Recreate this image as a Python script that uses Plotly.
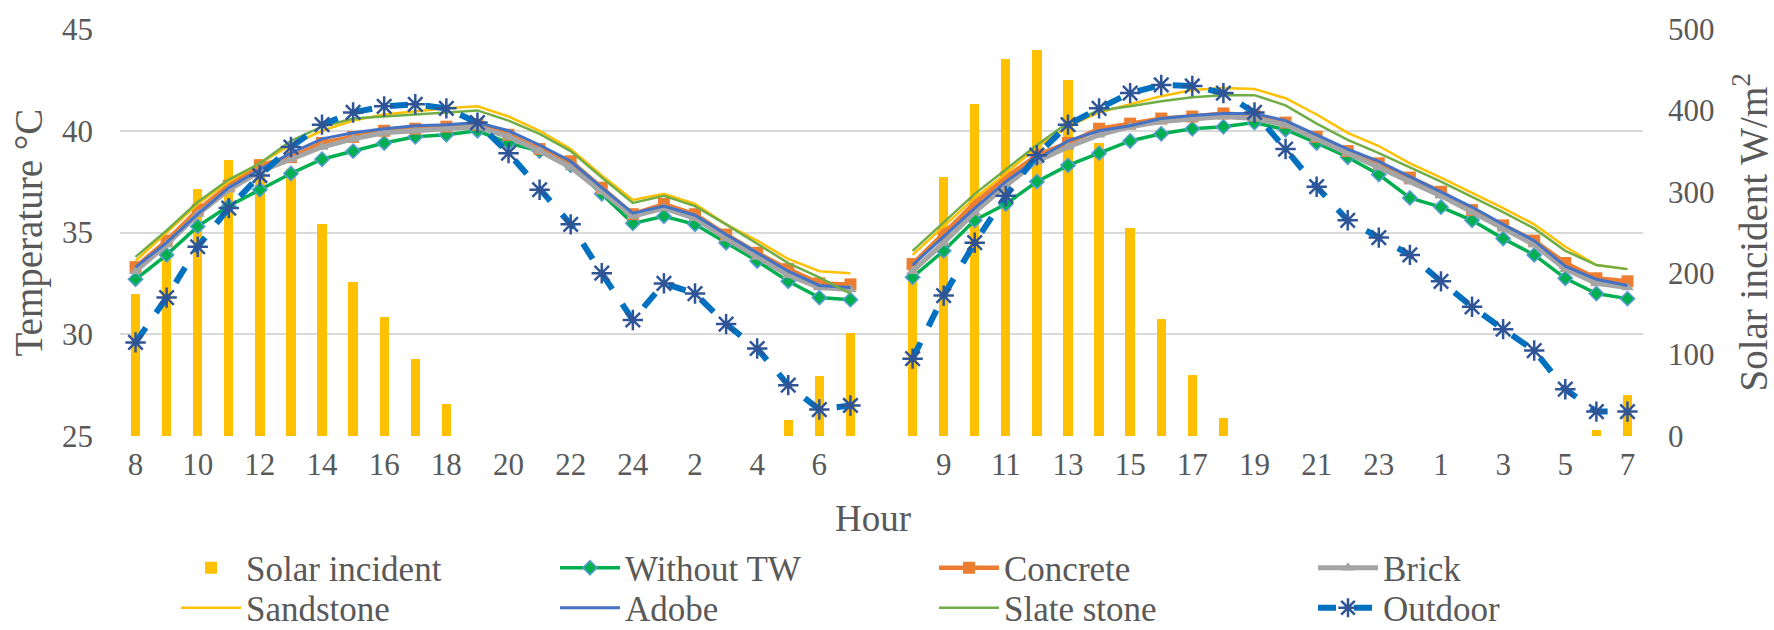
import plotly.graph_objects as go

# ---- data ----
hours = [8, 9, 10, 11, 12, 13, 14, 15, 16, 17, 18, 19, 20, 21, 22, 23, 24, 1, 2, 3, 4, 5, 6, 7]

solar_d1 = [175, 230, 304, 339, 340, 328, 260, 189, 146, 94, 39, 0, 0, 0, 0, 0, 0, 0, 0, 0, 0, 20, 74, 127]
solar_d2 = [195, 318, 408, 463, 474, 437, 360, 256, 144, 75, 22, 0, 0, 0, 0, 0, 0, 0, 0, 0, 0, 0, 7, 50]

without_tw_d1 = [32.7, 33.9, 35.3, 36.3, 37.1, 37.9, 38.6, 39.0, 39.4, 39.7, 39.8, 40.0, 39.4, 39.0, 38.3, 36.9, 35.45, 35.8, 35.4, 34.5, 33.6, 32.6, 31.8, 31.7]
without_tw_d2 = [32.8, 34.1, 35.6, 36.4, 37.5, 38.3, 38.9, 39.5, 39.85, 40.1, 40.2, 40.4, 40.05, 39.4, 38.7, 37.85, 36.7, 36.25, 35.6, 34.7, 33.9, 32.75, 32.0, 31.75]

concrete_d1 = [33.3, 34.6, 36.1, 37.3, 38.3, 38.7, 39.4, 39.7, 40.0, 40.1, 40.2, 40.3, 39.8, 39.1, 38.5, 37.2, 35.9, 36.4, 35.9, 34.9, 34.0, 33.2, 32.5, 32.45]
concrete_d2 = [33.45, 34.95, 36.45, 37.7, 38.8, 39.4, 40.1, 40.35, 40.6, 40.7, 40.85, 40.75, 40.4, 39.7, 39.0, 38.4, 37.7, 37.0, 36.1, 35.35, 34.6, 33.5, 32.75, 32.6]

brick_d1 = [33.1, 34.4, 35.9, 37.1, 38.0, 38.6, 39.2, 39.6, 39.9, 40.0, 40.1, 40.2, 39.7, 39.0, 38.2, 37.0, 35.8, 36.2, 35.7, 34.7, 33.8, 32.9, 32.3, 32.2]
brick_d2 = [33.1, 34.5, 36.0, 37.3, 38.5, 39.2, 39.8, 40.2, 40.45, 40.6, 40.7, 40.6, 40.3, 39.6, 38.9, 38.2, 37.5, 36.8, 36.0, 35.2, 34.4, 33.2, 32.5, 32.3]

sandstone_d1 = [33.6, 35.0, 36.4, 37.5, 38.4, 39.3, 40.0, 40.5, 40.8, 40.95, 41.1, 41.2, 40.7, 40.0, 39.1, 37.8, 36.6, 36.9, 36.4, 35.4, 34.6, 33.7, 33.1, 33.0]
sandstone_d2 = [33.9, 35.3, 36.7, 37.9, 39.2, 40.2, 40.9, 41.3, 41.7, 42.0, 42.1, 42.05, 41.6, 40.8, 39.9, 39.25, 38.4, 37.7, 36.95, 36.2, 35.4, 34.3, 33.4, 33.2]

adobe_d1 = [33.3, 34.5, 35.9, 37.2, 38.1, 38.9, 39.6, 39.9, 40.1, 40.25, 40.3, 40.4, 40.0, 39.3, 38.5, 37.2, 35.95, 36.3, 35.85, 34.9, 34.0, 33.1, 32.4, 32.3]
adobe_d2 = [33.4, 34.8, 36.2, 37.5, 38.6, 39.5, 40.0, 40.25, 40.6, 40.75, 40.85, 40.85, 40.5, 39.8, 39.1, 38.5, 37.75, 37.0, 36.25, 35.4, 34.6, 33.35, 32.7, 32.4]

slate_d1 = [33.8, 35.1, 36.5, 37.6, 38.4, 39.5, 40.2, 40.6, 40.7, 40.8, 40.9, 41.0, 40.5, 39.85, 39.0, 37.7, 36.45, 36.8, 36.3, 35.4, 34.45, 33.5, 32.8, 32.0]
slate_d2 = [34.1, 35.5, 36.9, 38.1, 39.3, 40.4, 41.0, 41.2, 41.45, 41.65, 41.75, 41.75, 41.25, 40.35, 39.55, 38.9, 38.2, 37.5, 36.75, 36.0, 35.2, 34.1, 33.4, 33.2]

outdoor_d1 = [29.6, 31.8, 34.3, 36.2, 37.8, 39.2, 40.3, 40.9, 41.2, 41.3, 41.1, 40.4, 38.9, 37.1, 35.4, 33.0, 30.7, 32.5, 32.0, 30.5, 29.3, 27.5, 26.3, 26.5]
outdoor_d2 = [28.8, 31.9, 34.5, 36.8, 38.8, 40.3, 41.1, 41.85, 42.25, 42.2, 41.85, 40.9, 39.1, 37.25, 35.6, 34.75, 33.9, 32.6, 31.35, 30.25, 29.2, 27.3, 26.2, 26.2]

# ---- category positions: day 1, one empty slot, day 2 ----
n = len(hours)
x_d1 = list(range(n))
x_d2 = list(range(n + 1, 2 * n + 1))
x_all = x_d1 + [n] + x_d2

def join(d1, d2):
    return list(d1) + [None] + list(d2)

tickvals = x_d1[0::2] + x_d2[1::2]
ticktext = [str(h) for h in hours[0::2]] + [str(h) for h in hours[1::2]]

FONT = "Liberation Serif"
GREY = "#595959"

fig = go.Figure()

fig.add_trace(go.Bar(
    x=x_d1 + x_d2, y=solar_d1 + solar_d2, width=0.3,
    marker=dict(color="#FFC000", line=dict(width=0)),
    name="Solar incident", yaxis="y", legend="legend"))

fig.add_trace(go.Scatter(
    x=x_all, y=join(without_tw_d1, without_tw_d2), mode="lines+markers",
    line=dict(color="#00B050", width=3.5),
    marker=dict(symbol="diamond", size=11, color="#00B050", line=dict(color="#5B9BD5", width=1.5)),
    name="Without TW", yaxis="y2", legend="legend"))

fig.add_trace(go.Scatter(
    x=x_all, y=join(concrete_d1, concrete_d2), mode="lines+markers",
    line=dict(color="#ED7D31", width=4.5),
    marker=dict(symbol="square", size=12, color="#ED7D31"),
    name="Concrete", yaxis="y2", legend="legend"))

fig.add_trace(go.Scatter(
    x=x_all, y=join(brick_d1, brick_d2), mode="lines+markers",
    line=dict(color="#A5A5A5", width=5),
    marker=dict(symbol="triangle-up", size=11, color="#A5A5A5"),
    name="Brick", yaxis="y2", legend="legend"))

fig.add_trace(go.Scatter(
    x=x_all, y=join(sandstone_d1, sandstone_d2), mode="lines",
    line=dict(color="#FFC000", width=2.5),
    name="Sandstone", yaxis="y2", legend="legend2"))

fig.add_trace(go.Scatter(
    x=x_all, y=join(adobe_d1, adobe_d2), mode="lines",
    line=dict(color="#4472C4", width=3),
    name="Adobe", yaxis="y2", legend="legend2"))

fig.add_trace(go.Scatter(
    x=x_all, y=join(slate_d1, slate_d2), mode="lines",
    line=dict(color="#70AD47", width=2.5),
    name="Slate stone", yaxis="y2", legend="legend2"))

fig.add_trace(go.Scatter(
    x=x_all, y=join(outdoor_d1, outdoor_d2), mode="lines+markers",
    line=dict(color="#0070C0", width=6, dash="dash"),
    marker=dict(symbol="asterisk-open", size=17, color="#2F5597", line=dict(color="#2F5597", width=2.5)),
    name="Outdoor", yaxis="y2", legend="legend2"))

legend_common = dict(
    orientation="h", xref="container", yref="container", xanchor="left", yanchor="middle",
    font=dict(family=FONT, size=35, color=GREY), bgcolor="rgba(0,0,0,0)",
    entrywidth=304, entrywidthmode="pixels", itemwidth=60, traceorder="normal")

fig.update_layout(
    width=1774, height=630, autosize=False,
    paper_bgcolor="white", plot_bgcolor="white",
    margin=dict(l=120, r=131, t=22, b=194, pad=0),
    font=dict(family=FONT, color=GREY, size=31),
    bargap=0,
    xaxis=dict(range=[-0.5, 2 * n + 0.5], tickmode="array", tickvals=tickvals, ticktext=ticktext,
               showgrid=False, zeroline=False, showline=False, ticks="",
               tickfont=dict(family=FONT, size=31, color=GREY), ticklabelstandoff=7),
    yaxis=dict(range=[0, 500], dtick=100, side="right", showgrid=False, zeroline=False,
               showline=False, ticks="", tickfont=dict(family=FONT, size=31, color=GREY),
               ticklabelstandoff=24),
    yaxis2=dict(range=[25, 45], dtick=5, side="left", overlaying="y", showgrid=True,
                gridcolor="#D9D9D9", gridwidth=2, zeroline=False, showline=False, ticks="",
                tickfont=dict(family=FONT, size=31, color=GREY), ticklabelstandoff=26),
    legend=dict(legend_common, x=176 / 1774, y=1 - 568 / 630),
    legend2=dict(legend_common, x=176 / 1774, y=1 - 608 / 630),
    showlegend=True,
    annotations=[
        dict(text="Temperature °C", xref="paper", yref="paper", x=(28 - 120) / 1523, y=0.5,
             textangle=-90, showarrow=False, xanchor="center", yanchor="middle",
             font=dict(family=FONT, size=39, color=GREY)),
        dict(text="Solar incident W/m<sup>2</sup>", xref="paper", yref="paper",
             x=(1750 - 120) / 1523, y=0.5, textangle=-90, showarrow=False,
             xanchor="center", yanchor="middle", font=dict(family=FONT, size=39, color=GREY)),
        dict(text="Hour", xref="paper", yref="paper", x=(873 - 120) / 1523, y=(436 - 520) / 414,
             showarrow=False, xanchor="center", yanchor="middle",
             font=dict(family=FONT, size=37, color=GREY)),
    ],
)

fig.write_html("out.html")
